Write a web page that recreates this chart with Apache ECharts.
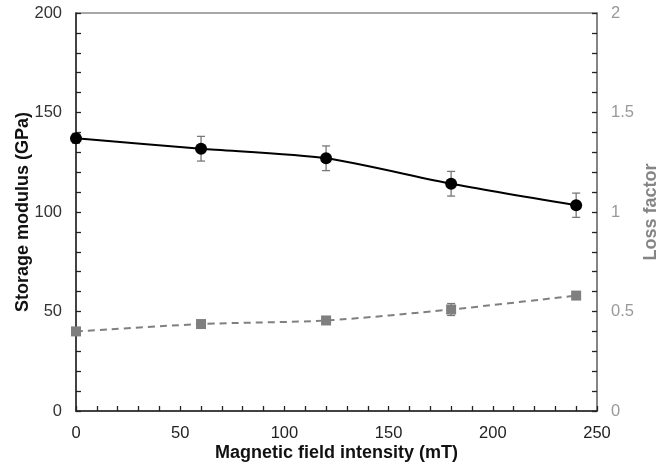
<!DOCTYPE html>
<html>
<head>
<meta charset="utf-8">
<script src="https://cdn.jsdelivr.net/npm/echarts@6/dist/echarts.min.js"></script>
<style>
  html, body { margin: 0; padding: 0; background: #fff; }
  #chart { width: 657px; height: 472px; }
</style>
</head>
<body>
<div id="chart"></div>
<script>
// Magnetic field intensity (mT)
var fieldIntensity = [0, 60, 120, 180, 240];
// Storage modulus (GPa) with standard deviation
var storageModulus = [137.0, 131.8, 127.0, 114.2, 103.4];
var storageError = [2.5, 6.2, 6.2, 6.2, 6.1];
// Loss factor with standard deviation
var lossFactor = [0.40, 0.437, 0.455, 0.51, 0.58];
var lossError = [0.01, 0.01, 0.012, 0.03, 0.01];

var font = '"Liberation Sans", Arial, sans-serif';

function pairs(xs, ys) {
  return xs.map(function (x, i) { return [x, ys[i]]; });
}
function errRows(xs, ys, es) {
  return xs.map(function (x, i) { return [x, ys[i] - es[i], ys[i] + es[i]]; });
}

// Vertical error bar with caps
function errorBar(color) {
  return function (params, api) {
    var lo = api.coord([api.value(0), api.value(1)]);
    var hi = api.coord([api.value(0), api.value(2)]);
    var w = 4;
    var style = { stroke: color, lineWidth: 1.3, fill: null };
    return {
      type: 'group',
      children: [
        { type: 'line', shape: { x1: lo[0], y1: lo[1], x2: hi[0], y2: hi[1] }, style: style },
        { type: 'line', shape: { x1: lo[0] - w, y1: lo[1], x2: lo[0] + w, y2: lo[1] }, style: style },
        { type: 'line', shape: { x1: hi[0] - w, y1: hi[1], x2: hi[0] + w, y2: hi[1] }, style: style }
      ]
    };
  };
}

var chart = echarts.init(document.getElementById('chart'), null, { renderer: 'canvas' });

chart.setOption({
  animation: false,
  backgroundColor: '#fff',
  grid: {
    left: 76, right: 60, top: 13, bottom: 61,
    outerBoundsMode: 'none', containLabel: false,
    show: true, borderColor: '#8a8a8a', borderWidth: 1.5, backgroundColor: 'transparent'
  },
  xAxis: {
    type: 'value', min: 0, max: 250, interval: 10,
    name: 'Magnetic field intensity (mT)',
    nameLocation: 'middle', nameGap: 33, nameMoveOverlap: false,
    nameTextStyle: { fontFamily: font, fontWeight: 'bold', fontSize: 18, color: '#111' },
    axisLine: { show: true, lineStyle: { color: '#222', width: 1.5 } },
    axisTick: { show: true, inside: true, length: 5, lineStyle: { color: '#222', width: 1.3 } },
    axisLabel: {
      fontFamily: font, fontSize: 16.5, color: '#222', margin: 14,
      formatter: function (v) { return v % 50 === 0 ? String(v) : ''; }
    },
    splitLine: { show: false }
  },
  yAxis: [
    {
      type: 'value', min: 0, max: 200, interval: 10, position: 'left',
      name: 'Storage modulus (GPa)',
      nameLocation: 'middle', nameGap: 44, nameRotate: 90, nameMoveOverlap: false,
      nameTextStyle: { fontFamily: font, fontWeight: 'bold', fontSize: 18, color: '#111' },
      axisLine: { show: true, lineStyle: { color: '#222', width: 1.5 } },
      axisTick: { show: true, inside: true, length: 5, lineStyle: { color: '#222', width: 1.3 } },
      axisLabel: {
        fontFamily: font, fontSize: 16.5, color: '#333', margin: 14,
        formatter: function (v) { return v % 50 === 0 ? String(v) : ''; }
      },
      splitLine: { show: false }
    },
    {
      type: 'value', min: 0, max: 2, interval: 0.1, position: 'right',
      name: 'Loss factor',
      nameLocation: 'middle', nameGap: 45, nameRotate: 90, nameMoveOverlap: false,
      nameTextStyle: { fontFamily: font, fontWeight: 'bold', fontSize: 18, color: '#858585' },
      axisLine: { show: true, lineStyle: { color: '#7a7a7a', width: 1.5 } },
      axisTick: { show: true, inside: true, length: 5, lineStyle: { color: '#222', width: 1.3 } },
      axisLabel: {
        fontFamily: font, fontSize: 16.5, color: '#999', margin: 14,
        formatter: function (v) {
          var t = Math.round(v * 10);
          return t % 5 === 0 ? String(t / 10) : '';
        }
      },
      splitLine: { show: false }
    }
  ],
  series: [
    {
      type: 'custom', name: 'Storage modulus error', yAxisIndex: 0, z: 3,
      renderItem: errorBar('#777'),
      data: errRows(fieldIntensity, storageModulus, storageError)
    },
    {
      type: 'custom', name: 'Loss factor error', yAxisIndex: 1, z: 3,
      renderItem: errorBar('#777'),
      data: errRows(fieldIntensity, lossFactor, lossError)
    },
    {
      type: 'line', name: 'Storage modulus', yAxisIndex: 0, z: 5,
      data: pairs(fieldIntensity, storageModulus),
      smooth: 0.25,
      symbol: 'circle', symbolSize: 12,
      lineStyle: { color: '#000', width: 2 },
      itemStyle: { color: '#000', borderWidth: 0 }
    },
    {
      type: 'line', name: 'Loss factor', yAxisIndex: 1, z: 5,
      data: pairs(fieldIntensity, lossFactor),
      smooth: 0.25,
      symbol: 'rect', symbolSize: 10,
      lineStyle: { color: '#808080', width: 2, type: [7, 5] },
      itemStyle: { color: '#7f7f7f', borderWidth: 0 }
    }
  ]
});
</script>
</body>
</html>
